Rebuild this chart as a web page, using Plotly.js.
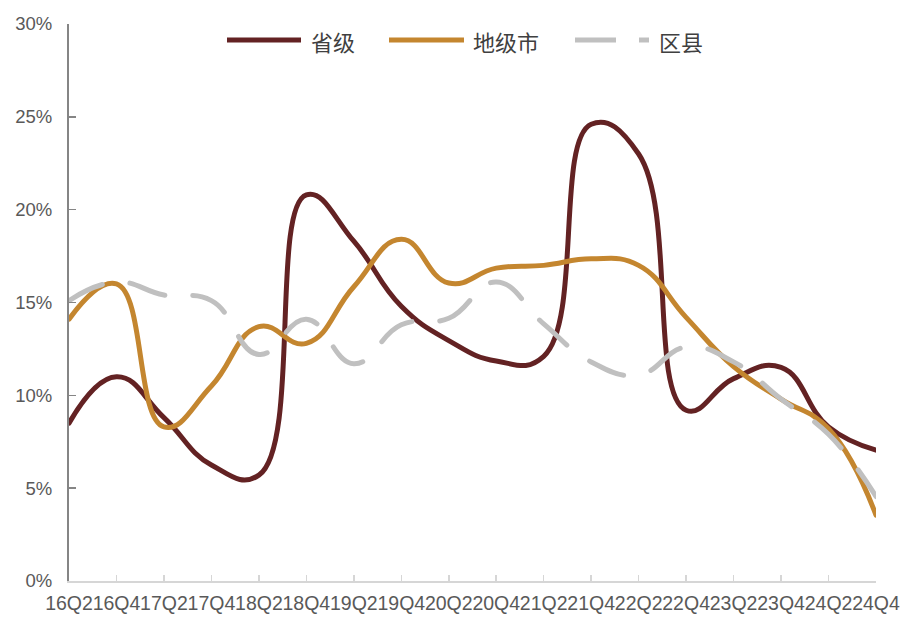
<!DOCTYPE html>
<html>
<head>
<meta charset="utf-8">
<script src="https://cdn.plot.ly/plotly-3.0.1.min.js"></script>
<style>
  html, body { margin: 0; padding: 0; background: #fff; }
  #chart { width: 910px; height: 625px; }
  .scatterlayer .js-line { stroke-linecap: round; }
</style>
</head>
<body>
<div id="chart"></div>
<script>
// ---- data ----
const quarters = ["16Q2","16Q4","17Q2","17Q4","18Q2","18Q4","19Q2","19Q4","20Q2","20Q4","21Q2","21Q4","22Q2","22Q4","23Q2","23Q4","24Q2","24Q4"];
const seriesNames = ["省级", "地级市", "区县"];
const provincial = [8.5, 11.0, 8.8, 6.25, 5.7, 20.8, 18.3, 14.8, 12.95, 11.85, 12.1, 24.6, 23.0, 9.2, 10.9, 11.5, 8.3, 7.05];
const prefecture = [14.1, 16.0, 8.3, 10.5, 13.7, 12.8, 15.85, 18.4, 16.05, 16.85, 17.0, 17.35, 17.0, 14.2, 11.55, 9.8, 8.2, 3.55];
const county = [15.1, 16.1, 15.4, 15.1, 12.2, 14.1, 11.7, 13.8, 14.15, 16.1, 13.85, 11.8, 11.1, 12.6, 11.8, 9.8, 7.9, 4.55];
const yTicks = [0, 5, 10, 15, 20, 25, 30];

// ---- styles ----
const colors = ["#632223", "#C4862F", "#C0C0C0"];
const dashes = ["solid", "solid", "37px,28px"];
const W = 910, H = 625;
const M = {l: 69, r: 34, t: 24, b: 44};
const font = "Liberation Sans, Arial, 'Noto Sans CJK SC', sans-serif";
const cjk = "'Noto Sans CJK SC', 'Liberation Sans', sans-serif";

const values = [provincial, prefecture, county];
const traces = values.map((v, i) => ({
  type: "scatter",
  mode: "lines",
  name: seriesNames[i],
  x: quarters,
  y: v,
  line: {color: colors[i], width: 5, shape: "spline", smoothing: 1.3, dash: dashes[i]},
  hoverinfo: "x+y+name",
  showlegend: false
}));
// custom legend (pixel positions converted to paper coords)
const pw = W - M.l - M.r, ph = H - M.t - M.b;
const px = x => (x - M.l) / pw;
const py = y => (H - M.b - y) / ph;
const legY = 40;
const shapes = [
  {type: "line", xref: "paper", yref: "paper", x0: px(227), x1: px(301), y0: py(legY), y1: py(legY), line: {color: colors[0], width: 5}},
  {type: "line", xref: "paper", yref: "paper", x0: px(389), x1: px(464), y0: py(legY), y1: py(legY), line: {color: colors[1], width: 5}},
  {type: "line", xref: "paper", yref: "paper", x0: px(575), x1: px(616), y0: py(legY), y1: py(legY), line: {color: colors[2], width: 5}},
  {type: "line", xref: "paper", yref: "paper", x0: px(639), x1: px(649), y0: py(legY), y1: py(legY), line: {color: colors[2], width: 5}}
];
const legText = [[seriesNames[0], 309], [seriesNames[1], 471], [seriesNames[2], 657]];
const annotations = legText.map(([t, x]) => ({
  text: t, xref: "paper", yref: "paper", x: px(x), y: py(legY + 1),
  xanchor: "left", yanchor: "middle", showarrow: false,
  font: {family: cjk, size: 22, color: "#404040"}
}));

const layout = {
  width: W, height: H,
  margin: M,
  paper_bgcolor: "#fff", plot_bgcolor: "#fff",
  showlegend: false,
  font: {family: font, color: "#595959"},
  xaxis: {
    type: "category",
    range: [0, quarters.length - 1],
    tickmode: "array", tickvals: quarters, ticktext: quarters,
    tickangle: 0,
    showline: true, linecolor: "#D6D6D6", linewidth: 2,
    ticks: "inside", ticklen: 6, tickcolor: "#D6D6D6", tickwidth: 1.5,
    showgrid: false, zeroline: false,
    tickfont: {family: font, size: 19.5, color: "#595959"},
    ticklabelstandoff: 4
  },
  yaxis: {
    range: [0, 30],
    tickmode: "array", tickvals: yTicks, ticktext: yTicks.map(v => v + "%"),
    showline: true, linecolor: "#858585", linewidth: 2,
    ticks: "inside", ticklen: 7, tickcolor: "#858585", tickwidth: 1.5,
    showgrid: false, zeroline: false,
    tickfont: {family: font, size: 18.5, color: "#595959"},
    ticklabelstandoff: 11
  },
  shapes: shapes,
  annotations: annotations
};

Plotly.newPlot("chart", traces, layout, {displayModeBar: false, staticPlot: true});
</script>
</body>
</html>
